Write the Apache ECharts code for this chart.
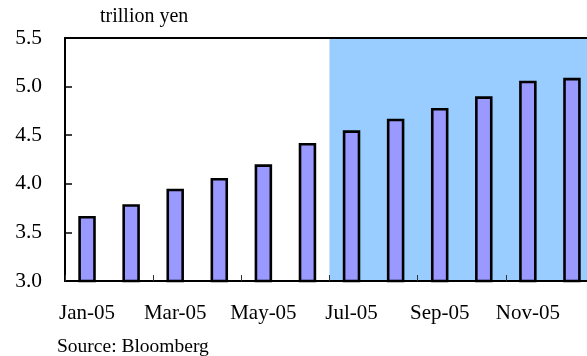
<!DOCTYPE html>
<html>
<head>
<meta charset="utf-8">
<script src="https://cdn.jsdelivr.net/npm/echarts@6/dist/echarts.min.js"></script>
<style>
  html, body { margin: 0; padding: 0; background: #fff; }
  #chart { width: 587px; height: 356px; }
</style>
</head>
<body>
<div id="chart"></div>
<script>
// Monthly values, trillion yen
const months = ['Jan-05', 'Feb-05', 'Mar-05', 'Apr-05', 'May-05', 'Jun-05',
                'Jul-05', 'Aug-05', 'Sep-05', 'Oct-05', 'Nov-05', 'Dec-05'];
const values = [3.67, 3.79, 3.95, 4.06, 4.20, 4.42, 4.55, 4.67, 4.78, 4.90, 5.06, 5.09];
const yTicks = [3.0, 3.5, 4.0, 4.5, 5.0, 5.5];
// Months highlighted with a shaded background
const shadedFrom = 'Jul-05';

const yMin = yTicks[0];
const yMax = yTicks[yTicks.length - 1];
const yStep = yTicks[1] - yTicks[0];
const shadeStart = months.indexOf(shadedFrom);

const FONT = '"Liberation Serif", "Times New Roman", serif';

const chart = echarts.init(document.getElementById('chart'), null, { renderer: 'canvas' });
chart.setOption({
  animation: false,
  backgroundColor: '#fff',
  title: [
    { text: 'trillion yen', left: 100, top: 7, padding: 0,
      textStyle: { fontFamily: FONT, fontSize: 20, fontWeight: 'normal', color: '#000' } },
    { text: 'Source: Bloomberg', left: 57, top: 337, padding: 0,
      textStyle: { fontFamily: FONT, fontSize: 19.5, fontWeight: 'normal', color: '#000' } }
  ],
  // the plot runs a little past the right edge of the page
  grid: { left: 65, top: 38, width: 529, height: 243, containLabel: false, outerBoundsMode: 'none' },
  xAxis: [
    {
      type: 'category',
      data: months,
      position: 'bottom',
      z: 5,
      axisLine: { show: true, lineStyle: { color: '#000', width: 2 } },
      axisTick: { show: true, inside: true, length: 6, interval: 1,
                  lineStyle: { color: '#333', width: 1 } },
      axisLabel: { interval: 1, margin: 22, fontFamily: FONT, fontSize: 21, color: '#000' },
      splitLine: { show: false }
    },
    {
      // month-index scale along the top edge, used for the shaded span
      type: 'value',
      position: 'top',
      min: 0,
      max: months.length,
      z: 5,
      axisLine: { show: true, lineStyle: { color: '#000', width: 2 } },
      axisTick: { show: false },
      axisLabel: { show: false },
      splitLine: { show: false }
    }
  ],
  yAxis: {
    type: 'value',
    min: yMin,
    max: yMax,
    interval: yStep,
    z: 5,
    axisLine: { show: true, lineStyle: { color: '#000', width: 2 } },
    axisTick: { show: true, inside: true, length: 7, lineStyle: { color: '#000', width: 1.5 } },
    axisLabel: { margin: 23, fontFamily: FONT, fontSize: 21.5, color: '#000',
                 formatter: v => v.toFixed(1) },
    splitLine: { show: false }
  },
  series: [
    {
      name: 'shade',
      type: 'line',
      xAxisIndex: 1,
      data: [],
      silent: true,
      markArea: {
        silent: true,
        itemStyle: { color: '#99CCFF', opacity: 1 },
        data: [[{ xAxis: shadeStart, yAxis: yMax }, { xAxis: months.length, yAxis: yMin }]]
      }
    },
    {
      name: 'value',
      type: 'bar',
      xAxisIndex: 0,
      data: values,
      barWidth: 17.5,
      z: 2,
      itemStyle: { color: '#9999FF', borderColor: '#000', borderWidth: 2.6 }
    }
  ]
});
</script>
</body>
</html>
